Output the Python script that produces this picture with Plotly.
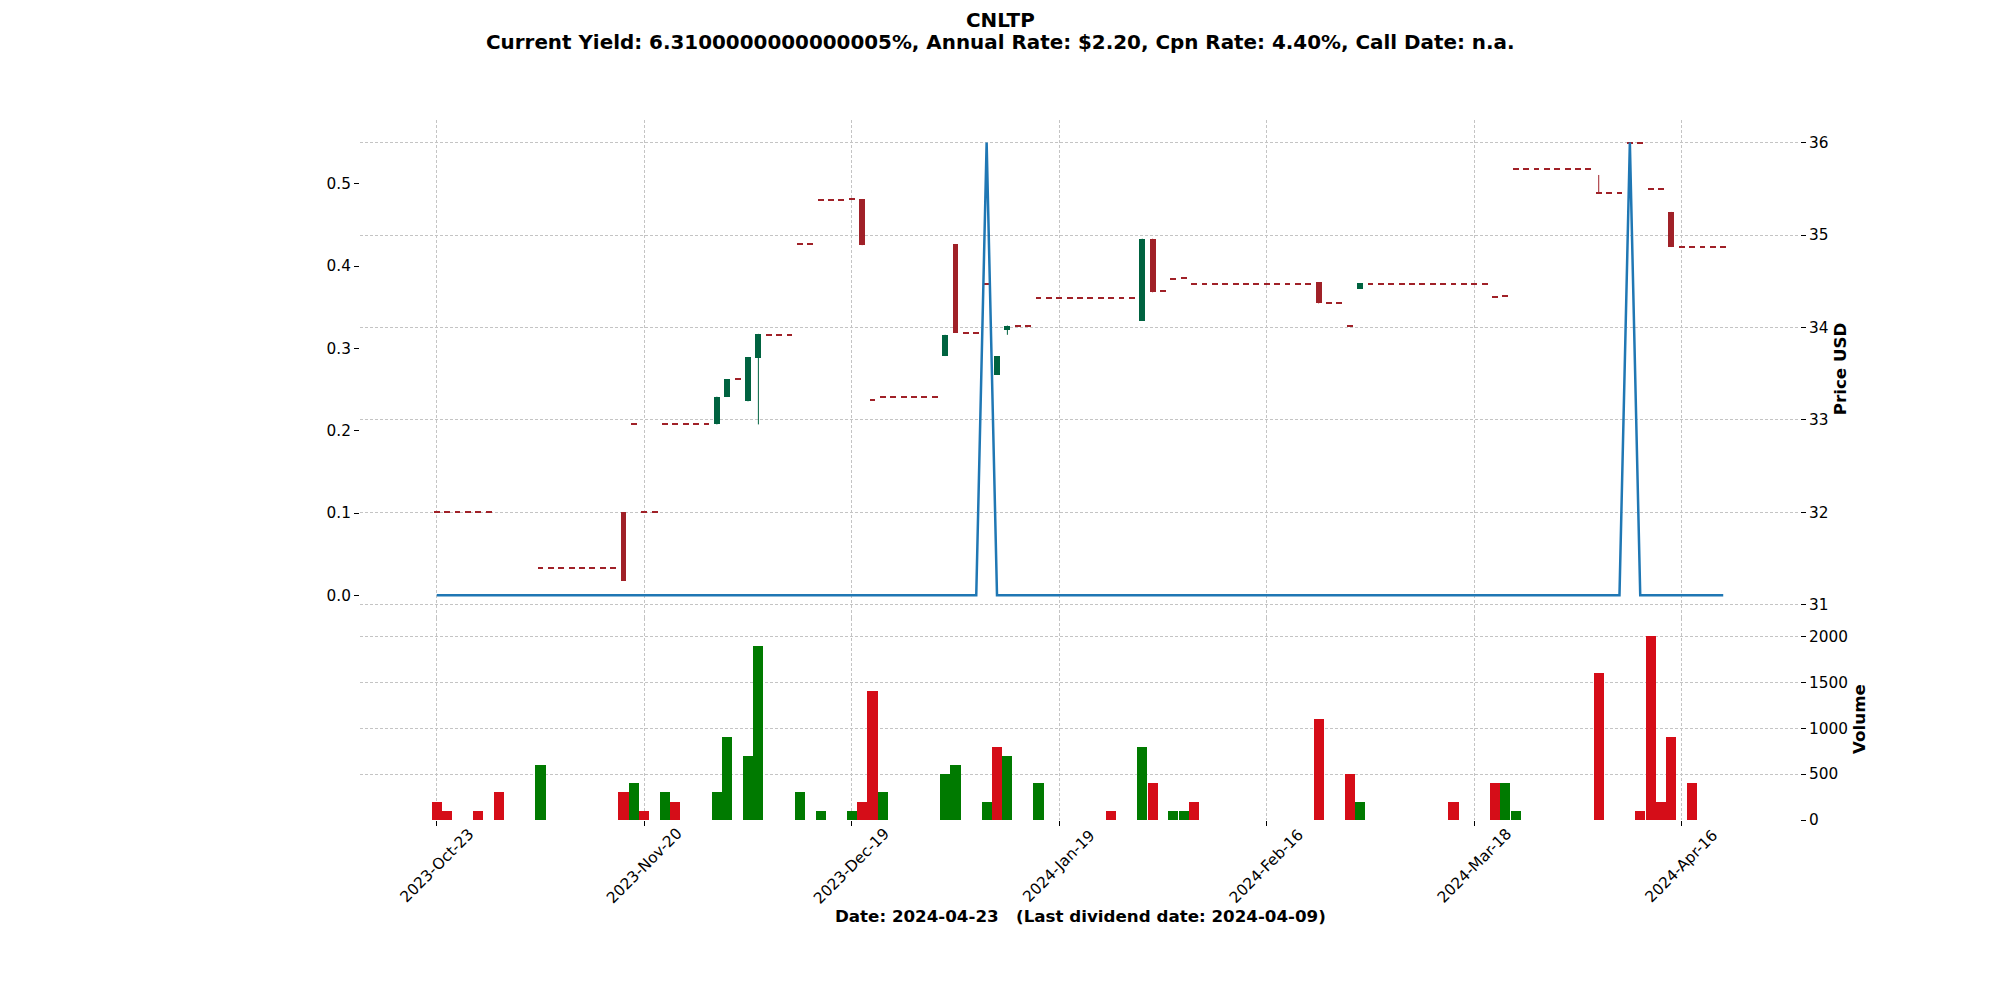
import plotly.graph_objects as go

# ---------------- data ----------------
ticker = "CNLTP"
subtitle = "Current Yield: 6.3100000000000005%, Annual Rate: $2.20, Cpn Rate: 4.40%, Call Date: n.a."
x_label = "Date: 2024-04-23\u00a0\u00a0\u00a0(Last dividend date: 2024-04-09)"

tick_positions = [0, 20, 40, 60, 80, 100, 120]
tick_labels = ["2023-Oct-23", "2023-Nov-20", "2023-Dec-19", "2024-Jan-19",
               "2024-Feb-16", "2024-Mar-18", "2024-Apr-16"]

opens = [
    32.00, 32.00, 32.00, 32.00, 32.00, 32.00, 31.10, 31.10, 31.10, 31.10,
    31.40, 31.40, 31.40, 31.40, 31.40, 31.40, 31.40, 31.40, 32.00, 32.95,
    32.00, 32.00, 32.95, 32.95, 32.95, 32.95, 32.95, 32.95, 33.25, 33.44,
    33.20, 33.67, 33.92, 33.92, 33.92, 34.90, 34.90, 35.38, 35.38, 35.38,
    35.39, 35.39, 33.21, 33.25, 33.25, 33.25, 33.25, 33.25, 33.25, 33.69,
    34.90, 33.94, 33.94, 34.47, 33.49, 33.97, 34.02, 34.02, 34.32, 34.32,
    34.32, 34.32, 34.32, 34.32, 34.32, 34.32, 34.32, 34.32, 34.07, 34.96,
    34.39, 34.52, 34.53, 34.47, 34.47, 34.47, 34.47, 34.47, 34.47, 34.47,
    34.47, 34.47, 34.47, 34.47, 34.47, 34.49, 34.27, 34.27, 34.02, 34.42,
    34.47, 34.47, 34.47, 34.47, 34.47, 34.47, 34.47, 34.47, 34.47, 34.47,
    34.47, 34.47, 34.33, 34.34, 35.71, 35.71, 35.71, 35.71, 35.71, 35.71,
    35.71, 35.71, 35.45, 35.45, 35.45, 36.00, 36.00, 35.50, 35.50, 35.25,
    34.87, 34.87, 34.87, 34.87, 34.87,
]
highs = [
    32.00, 32.00, 32.00, 32.00, 32.00, 32.00, 31.10, 31.10, 31.10, 31.10,
    31.40, 31.40, 31.40, 31.40, 31.40, 31.40, 31.40, 31.40, 32.00, 32.95,
    32.00, 32.00, 32.95, 32.95, 32.95, 32.95, 32.95, 33.25, 33.44, 33.44,
    33.68, 33.93, 33.92, 33.92, 33.92, 34.90, 34.90, 35.38, 35.38, 35.38,
    35.39, 35.39, 33.21, 33.25, 33.25, 33.25, 33.25, 33.25, 33.25, 33.92,
    34.90, 33.94, 33.94, 34.47, 33.69, 34.02, 34.02, 34.02, 34.32, 34.32,
    34.32, 34.32, 34.32, 34.32, 34.32, 34.32, 34.32, 34.32, 34.96, 34.96,
    34.39, 34.52, 34.53, 34.47, 34.47, 34.47, 34.47, 34.47, 34.47, 34.47,
    34.47, 34.47, 34.47, 34.47, 34.47, 34.49, 34.27, 34.27, 34.02, 34.48,
    34.47, 34.47, 34.47, 34.47, 34.47, 34.47, 34.47, 34.47, 34.47, 34.47,
    34.47, 34.47, 34.33, 34.34, 35.71, 35.71, 35.71, 35.71, 35.71, 35.71,
    35.71, 35.71, 35.65, 35.45, 35.45, 36.00, 36.00, 35.50, 35.50, 35.25,
    34.87, 34.87, 34.87, 34.87, 34.87,
]
lows = [
    32.00, 32.00, 32.00, 32.00, 32.00, 32.00, 31.10, 31.10, 31.10, 31.10,
    31.40, 31.40, 31.40, 31.40, 31.40, 31.40, 31.40, 31.40, 31.26, 32.95,
    32.00, 32.00, 32.95, 32.95, 32.95, 32.95, 32.95, 32.95, 33.25, 33.44,
    33.20, 32.95, 33.92, 33.92, 33.92, 34.90, 34.90, 35.38, 35.38, 35.38,
    35.39, 34.89, 33.21, 33.25, 33.25, 33.25, 33.25, 33.25, 33.25, 33.69,
    33.94, 33.94, 33.94, 34.47, 33.49, 33.92, 34.02, 34.02, 34.32, 34.32,
    34.32, 34.32, 34.32, 34.32, 34.32, 34.32, 34.32, 34.32, 34.07, 34.38,
    34.39, 34.52, 34.53, 34.47, 34.47, 34.47, 34.47, 34.47, 34.47, 34.47,
    34.47, 34.47, 34.47, 34.47, 34.47, 34.26, 34.27, 34.27, 34.02, 34.42,
    34.47, 34.47, 34.47, 34.47, 34.47, 34.47, 34.47, 34.47, 34.47, 34.47,
    34.47, 34.47, 34.33, 34.34, 35.71, 35.71, 35.71, 35.71, 35.71, 35.71,
    35.71, 35.71, 35.45, 35.45, 35.45, 36.00, 36.00, 35.50, 35.50, 34.87,
    34.87, 34.87, 34.87, 34.87, 34.87,
]
closes = [
    32.00, 32.00, 32.00, 32.00, 32.00, 32.00, 31.10, 31.10, 31.10, 31.10,
    31.40, 31.40, 31.40, 31.40, 31.40, 31.40, 31.40, 31.40, 31.26, 32.95,
    32.00, 32.00, 32.95, 32.95, 32.95, 32.95, 32.95, 33.25, 33.44, 33.44,
    33.68, 33.93, 33.92, 33.92, 33.92, 34.90, 34.90, 35.38, 35.38, 35.38,
    35.39, 34.89, 33.21, 33.25, 33.25, 33.25, 33.25, 33.25, 33.25, 33.92,
    33.94, 33.94, 33.94, 34.47, 33.69, 34.02, 34.02, 34.02, 34.32, 34.32,
    34.32, 34.32, 34.32, 34.32, 34.32, 34.32, 34.32, 34.32, 34.96, 34.38,
    34.39, 34.52, 34.53, 34.47, 34.47, 34.47, 34.47, 34.47, 34.47, 34.47,
    34.47, 34.47, 34.47, 34.47, 34.47, 34.26, 34.27, 34.27, 34.02, 34.48,
    34.47, 34.47, 34.47, 34.47, 34.47, 34.47, 34.47, 34.47, 34.47, 34.47,
    34.47, 34.47, 34.33, 34.34, 35.71, 35.71, 35.71, 35.71, 35.71, 35.71,
    35.71, 35.71, 35.45, 35.45, 35.45, 36.00, 36.00, 35.50, 35.50, 34.87,
    34.87, 34.87, 34.87, 34.87, 34.87,
]
volumes = [
    200, 100, 0, 0, 100, 0, 300, 0, 0, 0,
    600, 0, 0, 0, 0, 0, 0, 0, 300, 400,
    100, 0, 300, 200, 0, 0, 0, 300, 900, 0,
    700, 1900, 0, 0, 0, 300, 0, 100, 0, 0,
    100, 200, 1400, 300, 0, 0, 0, 0, 0, 500,
    600, 0, 0, 200, 800, 700, 0, 0, 400, 0,
    0, 0, 0, 0, 0, 100, 0, 0, 800, 400,
    0, 100, 100, 200, 0, 0, 0, 0, 0, 0,
    0, 0, 0, 0, 0, 1100, 0, 0, 500, 200,
    0, 0, 0, 0, 0, 0, 0, 0, 200, 0,
    0, 0, 400, 400, 100, 0, 0, 0, 0, 0,
    0, 0, 1600, 0, 0, 0, 100, 2000, 200, 900,
    0, 400, 0, 0, 0,
]
dividends = [0.0] * 125
dividends[53] = 0.55
dividends[115] = 0.55

# ---------------- styling ----------------
UP, DOWN = "#006340", "#a02128"
VUP, VDOWN = "#007a00", "#d50d18"
GRID = "#c4c4c4"
FONT = "DejaVu Sans"

n = len(closes)
idx = list(range(n))

body_base, body_h, body_col = [], [], []
for o, c in zip(opens, closes):
    lo, hi = min(o, c), max(o, c)
    if hi - lo < 0.012:
        mid = (hi + lo) / 2
        lo, hi = mid - 0.006, mid + 0.006
    body_base.append(lo)
    body_h.append(hi - lo)
    body_col.append(UP if c > o else DOWN)

vol_col = []
for i, c in enumerate(closes):
    vol_col.append(VUP if i > 0 and c > closes[i - 1] else VDOWN)

fig = go.Figure()

# wicks
for color, cond in ((UP, lambda o, c: c > o), (DOWN, lambda o, c: c <= o)):
    wx, wy = [], []
    for i in idx:
        if cond(opens[i], closes[i]) and highs[i] > lows[i]:
            wx += [i, i, None]
            wy += [lows[i], highs[i], None]
    fig.add_trace(go.Scatter(x=wx, y=wy, mode="lines", line=dict(color=color, width=1),
                             xaxis="x", yaxis="y", showlegend=False, hoverinfo="skip"))

# bodies
fig.add_trace(go.Bar(x=idx, y=body_h, base=body_base, width=0.56,
                     marker=dict(color=body_col, line=dict(width=0)),
                     xaxis="x", yaxis="y", showlegend=False))

# dividend line (left axis, on top)
fig.add_trace(go.Scatter(x=idx, y=dividends, mode="lines",
                         line=dict(color="#1f77b4", width=2.5),
                         xaxis="x", yaxis="y3", showlegend=False))

# volume
fig.add_trace(go.Bar(x=idx, y=volumes, width=0.98,
                     marker=dict(color=vol_col, line=dict(width=0)),
                     xaxis="x2", yaxis="y2", showlegend=False))

main_bottom = 0.2886
xr = [-7.4, 131.4]
tickfont = dict(family=FONT, size=15.3, color="black")
labfont = dict(family=FONT, size=16.7, color="black")

annotations = [
    dict(text=f"<b>{ticker}</b>", xref="paper", yref="paper",
         x=(1000 - 360) / 1440, y=(820 - 20) / 700, xanchor="center", yanchor="middle",
         showarrow=False, font=dict(family=FONT, size=19.9, color="black")),
    dict(text=f"<b>{subtitle}</b>", xref="paper", yref="paper",
         x=(1000 - 360) / 1440, y=(820 - 43) / 700, xanchor="center", yanchor="middle",
         showarrow=False, font=dict(family=FONT, size=19.9, color="black")),
    dict(text=f"<b>{x_label}</b>", xref="paper", yref="paper",
         x=0.5, y=-(916 - 820) / 700, xanchor="center", yanchor="middle",
         showarrow=False, font=labfont),
]
# rotated date labels, centred under their ticks (matplotlib style)
for pos, lab in zip(tick_positions, tick_labels):
    annotations.append(dict(text=lab, xref="x2", yref="paper", x=pos,
                            y=-(866 - 820) / 700, xanchor="center", yanchor="middle",
                            textangle=-45, showarrow=False, font=tickfont))

fig.update_layout(
    width=2000, height=1000,
    margin=dict(l=360, r=200, t=120, b=180),
    paper_bgcolor="white", plot_bgcolor="white",
    barmode="overlay", bargap=0,
    font=dict(family=FONT, color="black"),
    xaxis=dict(domain=[0, 1], range=xr, anchor="y", tickvals=tick_positions,
               showticklabels=False, ticks="", showgrid=True, gridcolor=GRID,
               griddash="3px,2px", gridwidth=1, zeroline=False, showline=False),
    xaxis2=dict(domain=[0, 1], range=xr, anchor="y2", tickvals=tick_positions,
                showticklabels=False,
                ticks="outside", ticklen=5, tickcolor="black", tickwidth=1,
                showgrid=True, gridcolor=GRID, griddash="3px,2px", gridwidth=1,
                zeroline=False, showline=False),
    yaxis=dict(domain=[main_bottom, 1], range=[30.855, 36.245], side="right",
               anchor="x", tickvals=[31, 32, 33, 34, 35, 36], tickfont=tickfont,
               ticks="outside", ticklen=5, tickcolor="black",
               showgrid=True, gridcolor=GRID, griddash="3px,2px", gridwidth=1,
               zeroline=False, showline=False,
               title=dict(text="<b>Price USD</b>", font=labfont, standoff=6)),
    yaxis3=dict(overlaying="y", side="left", anchor="x", range=[-0.0275, 0.5775],
                tickvals=[0.0, 0.1, 0.2, 0.3, 0.4, 0.5],
                ticktext=["0.0", "0.1", "0.2", "0.3", "0.4", "0.5"],
                tickfont=tickfont, ticks="outside", ticklen=5, tickcolor="black",
                showgrid=False, zeroline=False, showline=False),
    yaxis2=dict(domain=[0, main_bottom], range=[0, 2200], side="right", anchor="x2",
                tickvals=[0, 500, 1000, 1500, 2000], tickfont=tickfont,
                ticks="outside", ticklen=5, tickcolor="black",
                showgrid=True, gridcolor=GRID, griddash="3px,2px", gridwidth=1,
                zeroline=False, showline=False,
                title=dict(text="<b>Volume</b>", font=labfont, standoff=6)),
    annotations=annotations,
)

fig.write_html("out.html")
